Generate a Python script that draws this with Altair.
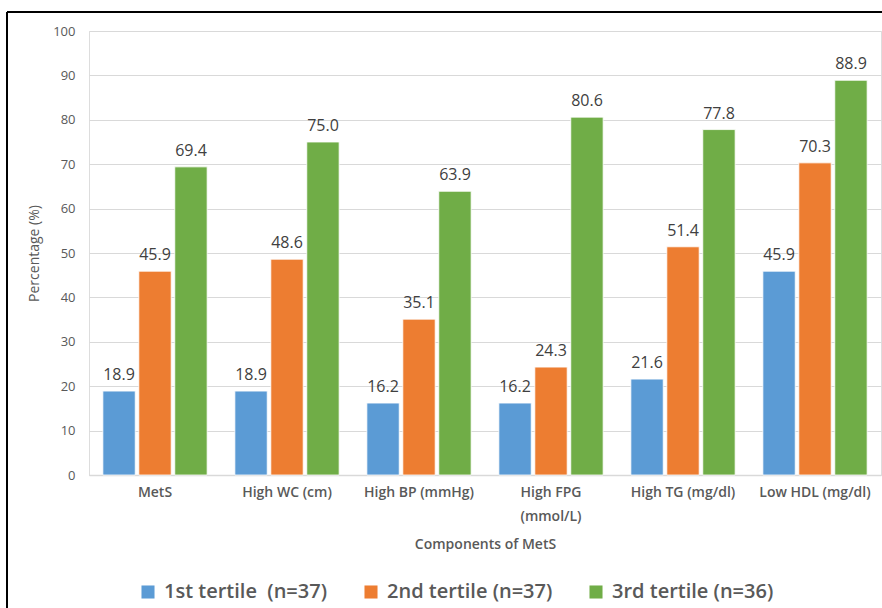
import altair as alt
import pandas as pd

# Components of the metabolic syndrome, by tertile
components = [
    "MetS",
    "High WC (cm)",
    "High BP (mmHg)",
    "High FPG (mmol/L)",
    "High TG (mg/dl)",
    "Low HDL (mg/dl)",
]
tertiles = [
    "1st tertile\u00a0 (n=37)",
    "2nd tertile (n=37)",
    "3rd tertile (n=36)",
]
first_tertile = [18.9, 18.9, 16.2, 16.2, 21.6, 45.9]
second_tertile = [45.9, 48.6, 35.1, 24.3, 51.4, 70.3]
third_tertile = [69.4, 75.0, 63.9, 80.6, 77.8, 88.9]
colors = ["#5B9BD5", "#ED7D31", "#70AD47"]
y_ticks = list(range(0, 101, 10))

rows = []
for series, values in zip(tertiles, [first_tertile, second_tertile, third_tertile]):
    for comp, v in zip(components, values):
        rows.append({"component": comp, "tertile": series, "pct": v})
df = pd.DataFrame(rows)

FONT = "Open Sans"
GREY = "#595959"
W, H = 792, 444

x_enc = alt.X(
    "component:N",
    sort=components,
    scale=alt.Scale(paddingInner=0.21, paddingOuter=0.105),
    axis=alt.Axis(
        title="Components of MetS",
        labelAngle=0,
        labelFontSize=14,
        labelFontWeight=600,
        labelColor=GREY,
        labelFont=FONT,
        labelPadding=10,
        labelLineHeight=24,
        labelExpr="datum.label == 'High FPG (mmol/L)' ? ['High FPG', '(mmol/L)'] : datum.label",
        ticks=False,
        domainColor="#D9D9D9",
        domainWidth=1.5,
        titleFont=FONT,
        titleFontSize=14,
        titleFontWeight=600,
        titleColor=GREY,
        titlePadding=14,
    ),
)
x_off = alt.XOffset(
    "tertile:N",
    sort=tertiles,
    scale=alt.Scale(paddingInner=0.1, paddingOuter=0),
)
y_enc = alt.Y(
    "pct:Q",
    scale=alt.Scale(domain=[0, 100], nice=False),
    axis=alt.Axis(
        title="Percentage (%)",
        values=y_ticks,
        grid=True,
        gridColor="#D9D9D9",
        gridWidth=1.2,
        domain=False,
        ticks=False,
        labelFontSize=13,
        labelColor=GREY,
        labelFont=FONT,
        labelPadding=14,
        titleFont=FONT,
        titleFontSize=14,
        titleFontWeight="normal",
        titleColor=GREY,
        titlePadding=11,
    ),
)
color_enc = alt.Color(
    "tertile:N",
    sort=tertiles,
    scale=alt.Scale(domain=tertiles, range=colors),
    legend=alt.Legend(
        title=None,
        orient="none",
        direction="horizontal",
        legendX=49,
        legendY=551,
        symbolType="square",
        symbolSize=170,
        symbolStrokeWidth=0,
        labelFont=FONT,
        labelFontSize=20,
        labelFontWeight=600,
        labelColor=GREY,
        labelOffset=6,
        columnPadding=33,
        labelLimit=400,
    ),
)

bars = alt.Chart(df).mark_bar(stroke="white", strokeWidth=0.8).encode(
    x=x_enc, xOffset=x_off, y=y_enc, color=color_enc
)

labels = alt.Chart(df).mark_text(
    font=FONT, fontSize=16, color="#404040", dy=-11, baseline="alphabetic"
).encode(
    x=alt.X("component:N", sort=components),
    xOffset=alt.XOffset("tertile:N", sort=tertiles),
    y="pct:Q",
    text=alt.Text("pct:Q", format=".1f"),
)

# Frame lines on the top and left of the figure
frame_left = alt.Chart(df).mark_rule(color="black", strokeWidth=1.5, clip=False).encode(
    x=alt.value(-82), y=alt.value(-19), y2=alt.value(600)
)
frame_top = alt.Chart(df).mark_rule(color="black", strokeWidth=1.5, clip=False).encode(
    x=alt.value(-82), x2=alt.value(W + 10), y=alt.value(-19)
)

chart = (
    alt.layer(bars, labels, frame_left, frame_top)
    .properties(
        width=W,
        height=H,
        autosize=alt.AutoSizeParams(type="none"),
        padding={"left": 89, "top": 31, "right": 1, "bottom": 133},
    )
    .configure_view(stroke=None)
    .configure(background="white")
)

chart.save("out.html", embed_options={"renderer": "svg", "actions": False})
